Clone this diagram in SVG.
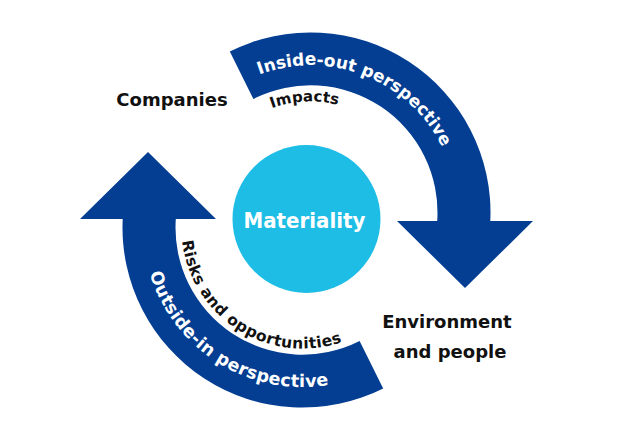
<svg xmlns="http://www.w3.org/2000/svg" xmlns:xlink="http://www.w3.org/1999/xlink" width="631" height="443" viewBox="0 0 631 443">
  <style>
    .band { fill: #033E93; }
    .txt { font-family: "DejaVu Sans", "Liberation Sans", sans-serif; font-weight: bold; }
    .dark { fill: #111111; }
    .white { fill: #ffffff; }
  </style>
  <defs>
    <path id="band" d="M 229.8 51.5 A 180 180 0 0 1 490.3 221 L 533 221 L 465 288 L 397 221 L 437.2 221 A 127 127 0 0 0 253.4 98.9 Z"/>
    <path id="p-inside" d="M 240.7 83.0 A 147 147 0 0 1 450.0 166.1"/>
    <path id="p-outside" d="M 144.6 250.1 A 159.5 159.5 0 0 0 352.1 379.2"/>
    <path id="p-risks" d="M 181.6 223.0 A 121 121 0 0 0 358.9 334.6"/>
    <path id="p-impacts" d="M 250.0 119.3 A 111 111 0 0 1 360.9 113.5"/>
  </defs>
  <rect width="631" height="443" fill="#ffffff"/>

  <g id="connectors">
    <g id="arrow-inside-out">
      <use xlink:href="#band" class="band"/>
      <text class="txt white" font-size="17"><textPath xlink:href="#p-inside" startOffset="50%" text-anchor="middle">Inside-out perspective</textPath></text>
      <text class="txt dark" font-size="15"><textPath xlink:href="#p-impacts" startOffset="50%" text-anchor="middle">Impacts</textPath></text>
    </g>
    <g id="arrow-outside-in">
      <use xlink:href="#band" class="band" transform="rotate(180 306.5 220)"/>
      <text class="txt white" font-size="17.5" letter-spacing="0.3"><textPath xlink:href="#p-outside" startOffset="50%" text-anchor="middle">Outside-in perspective</textPath></text>
      <text class="txt dark" font-size="15.5" letter-spacing="0.4"><textPath xlink:href="#p-risks" startOffset="50%" text-anchor="middle">Risks and opportunities</textPath></text>
    </g>
  </g>

  <g id="node-materiality">
    <circle cx="306.5" cy="219" r="74" fill="#1DBDE6"/>
    <text class="txt white" x="304.5" y="228" font-size="21" text-anchor="middle" textLength="122" lengthAdjust="spacingAndGlyphs">Materiality</text>
  </g>

  <g id="node-companies">
    <text class="txt dark" x="172" y="106" font-size="18" text-anchor="middle">Companies</text>
  </g>

  <g id="node-environment">
    <text class="txt dark" font-size="18" text-anchor="middle">
      <tspan x="450" y="328">Environment</tspan>
      <tspan x="450" y="358">and people</tspan>
    </text>
  </g>
</svg>
